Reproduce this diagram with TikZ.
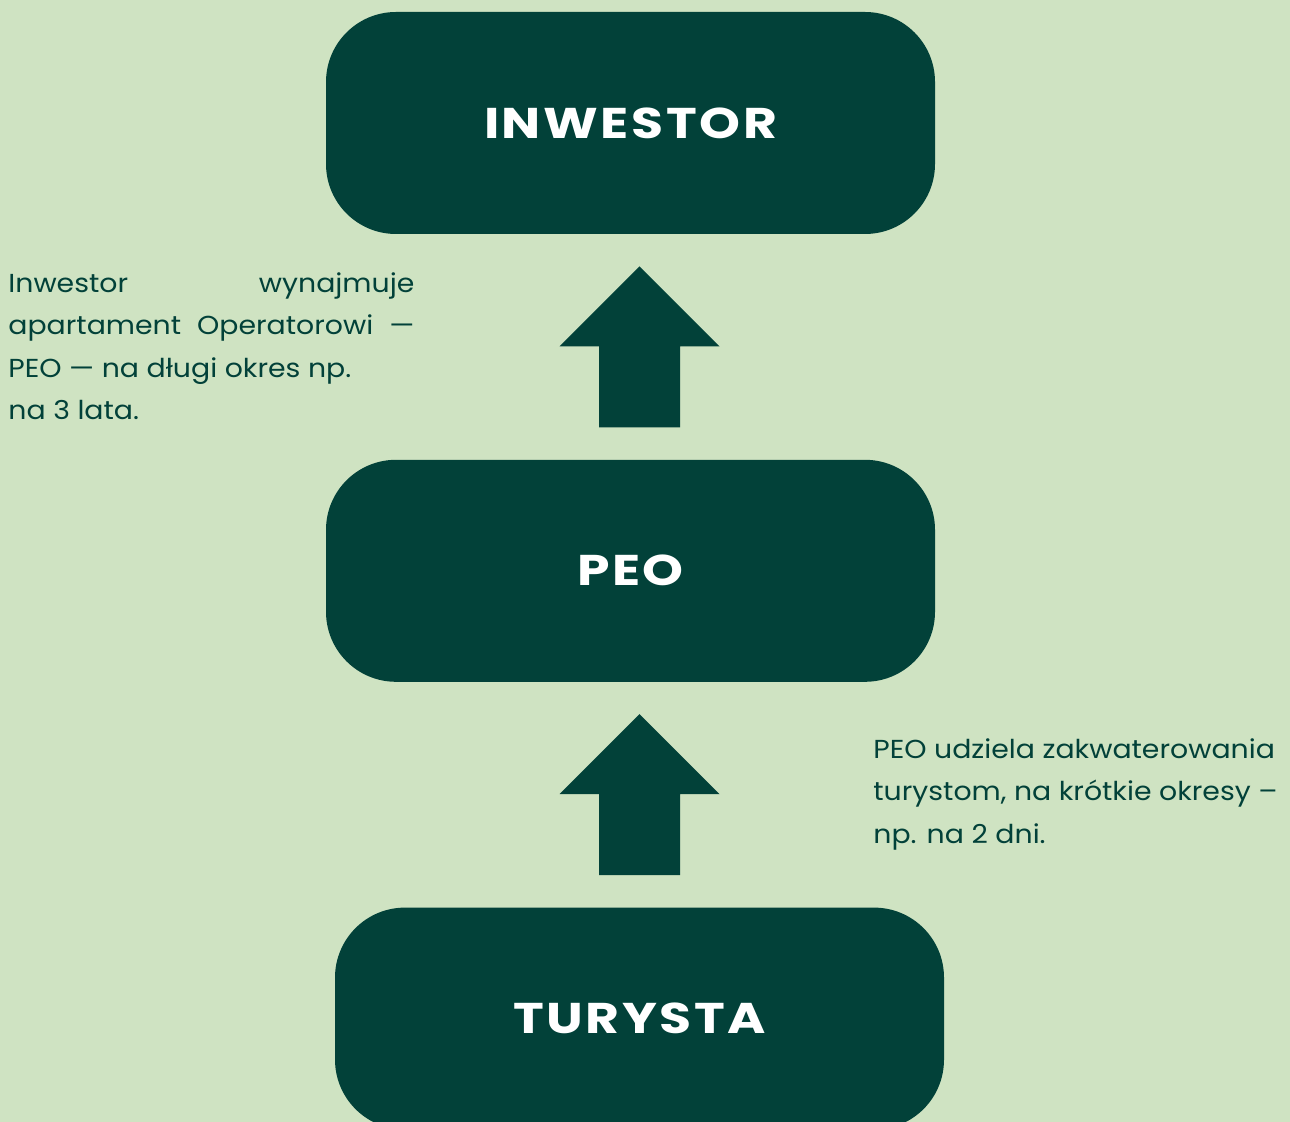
\documentclass[tikz,border=0pt]{standalone}
\usepackage{fontspec}
\setmainfont[FakeStretch=1.09]{Poppins}
\newfontfamily\titlefont[LetterSpace=6, FakeStretch=1.21]{Poppins}
\usetikzlibrary{positioning, calc}

\definecolor{bgcol}{RGB}{207,227,194}
\definecolor{darkcol}{RGB}{2,65,57}

\begin{document}
\begin{tikzpicture}[
    node distance=112.5pt,
    role/.style={rectangle, rounded corners=35pt, fill=darkcol, text=white,
      minimum width=304.5pt, minimum height=111pt, inner sep=0pt,
      font=\titlefont\bfseries\fontsize{21.5pt}{24pt}\selectfont},
    note/.style={anchor=north west, inner sep=0pt, align=left, text=darkcol,
      font=\fontsize{13pt}{21.25pt}\selectfont},
    bigarrow/.style={fill=darkcol}
]
% page and background
\fill[bgcol] (0,0) rectangle (645pt,-561pt);
\useasboundingbox (0,0) rectangle (645pt,-561pt);

\node[role] (inwestor) at (315.25pt,-61.5pt) {INWESTOR};
\node[role, below=of inwestor] (peo) {PEO};
\node[role, below=of peo, xshift=4.5pt] (turysta) {TURYSTA};

% block arrows between the boxes
\coordinate (up1) at ($(peo.north)+(4.5pt,16pt)$);
\coordinate (up2) at ($(turysta.north)+(0pt,16pt)$);
\foreach \c in {up1, up2}
  \fill[bigarrow] (\c) ++(-20.25pt,0) -- ++(0,40.5pt) -- ++(-19.75pt,0)
    -- ++(40pt,40pt) -- ++(40pt,-40pt) -- ++(-19.75pt,0) -- ++(0,-40.5pt) -- cycle;

\node[note] (leftnote) at (4pt,-136pt)
  {\makebox[203pt][s]{Inwestor wynajmuje}\\
   \makebox[203pt][s]{apartament Operatorowi —}\\
   PEO — na długi okres np.\\
   na 3 lata.};
\node[note] (rightnote) at (436.5pt,-369pt)
  {PEO udziela zakwaterowania\\
   turystom, na krótkie okresy –\\
   np. na 2 dni.};
\end{tikzpicture}
\end{document}
